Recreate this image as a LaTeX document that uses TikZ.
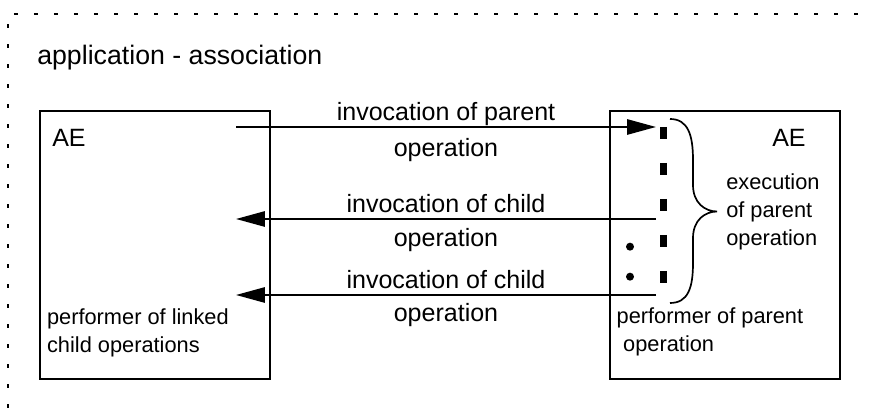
\documentclass[tikz,border=0pt]{standalone}
\usepackage{fontspec}
\setmainfont{Liberation Sans}
\usetikzlibrary{arrows.meta,positioning}

\tikzset{
    box/.style={draw, line width=1.4pt, minimum width=5.75cm, minimum height=6.7cm, inner sep=0pt},
    tag/.style={font=\fontsize{17.8}{22.8}\selectfont, inner sep=0pt},
    note/.style={font=\fontsize{15.5}{20}\selectfont, inner sep=0pt, align=left},
    msg/.style={-{Triangle[length=0.72cm,width=0.38cm]}, line width=1.4pt},
    lab/.style={font=\fontsize{17.8}{22.8}\selectfont, inner sep=0pt, text depth=0pt},
}

\begin{document}
\begin{tikzpicture}
    \useasboundingbox (0,0) rectangle (21.85,10.2);

    % Draw dotted association frame
    \draw[line width=0.8pt, dash pattern=on 0.09cm off 0.41cm] (0.2,0) -- (0.2,9.85) -- (21.85,9.85);
    \node[tag, font=\fontsize{19}{22}\selectfont, anchor=base west] (title) at (0.925,8.575) {application - association};

    % Draw the two AEs
    \node[box] (left) at (3.875,4.075) {};
    \node[box] (right) at (18.125,4.075) {};
    \node[tag, anchor=base west] (aeL) at (1.3,6.53) {AE};
    \node[tag, anchor=base west] (aeR) at (19.3,6.53) {AE};
    \node[note, anchor=north west] (perfL) at (1.17,2.5) {performer of linked\\child operations};
    \node[note, anchor=north west] (perfR) at (15.41,2.515) {performer of parent\\\hspace*{0.3em}operation};
    \node[note, anchor=north west] (exec) at (18.15,5.875) {execution\\of parent\\operation};

    % Mark end points of invocations
    \coordinate (s1) at (5.9,7.025);
    \coordinate (t1) at (16.4,7.025);
    \coordinate (s2) at (16.4,4.725);
    \coordinate (t2) at (5.9,4.725);
    \coordinate (s3) at (16.4,2.825);
    \coordinate (t3) at (5.9,2.825);

    % Draw invocations
    \draw[msg] (s1) -- (t1) node[lab, midway, above=0.14cm] (m1a) {invocation of parent}
        node[lab, midway, below=0.25cm] (m1b) {operation};
    \draw[msg] (s2) -- (t2) node[lab, midway, above=0.14cm] (m2a) {invocation of child}
        node[lab, midway, below=0.22cm] (m2b) {operation};
    \draw[msg] (s3) -- (t3) node[lab, midway, above=0.14cm] (m3a) {invocation of child}
        node[lab, midway, below=0.18cm] (m3b) {operation};

    % Draw execution of parent operation
    \draw[line width=0.17cm, dash pattern=on 0.3cm off 0.6cm] (16.59,7.025) -- (16.59,3.125);
    \fill (15.75,4.033) circle (0.1);
    \fill (15.75,3.283) circle (0.1);

    % Draw brace
    \draw[line width=1.2pt] (16.75,7.225) .. controls (17.2,7.225) and (17.325,6.825) .. (17.325,6.2)
        -- (17.325,5.575) .. controls (17.325,5.125) and (17.625,4.9125) .. (17.925,4.9125)
        .. controls (17.625,4.9125) and (17.325,4.7) .. (17.325,4.25)
        -- (17.325,3.625) .. controls (17.325,3.0) and (17.2,2.625) .. (16.75,2.625);
\end{tikzpicture}
\end{document}
